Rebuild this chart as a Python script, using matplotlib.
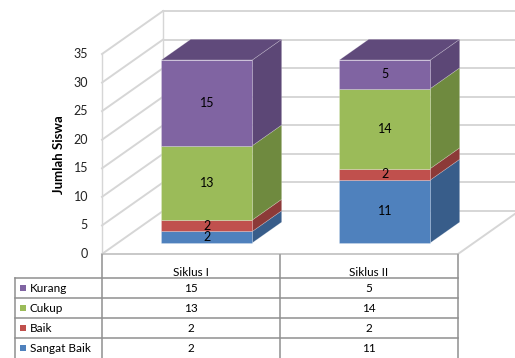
import numpy as np
import matplotlib.pyplot as plt
from matplotlib.patches import Polygon, Rectangle

plt.rcParams['font.family'] = ['Lato', 'DejaVu Sans']

# data
categories = ["Siklus I", "Siklus II"]
series = ["Sangat Baik", "Baik", "Cukup", "Kurang"]
sangat_baik = [2, 11]
baik = [2, 2]
cukup = [13, 14]
kurang = [15, 5]
yticks = [0, 5, 10, 15, 20, 25, 30, 35]

values = [sangat_baik, baik, cukup, kurang]
front_cols = ["#4F81BD", "#C0504D", "#9BBB59", "#8064A2"]
side_cols = ["#385D8A", "#8C3A38", "#6F8A3F", "#5C4776"]
top_col = "#604A7B"

# pseudo-3d geometry (data units)
W, H = 515, 358
PX_X, PX_Y = 178.0, 5.714     # pixels per unit
X0_PX, Y0_PX = 102, 254       # pixel position of (-0.5, 0)
DX, DY = 0.343, 7.53          # full depth of floor
Z0, Z1 = 0.26, 0.74           # bar depth span
BW = 0.511

fig = plt.figure(figsize=(W / 100, H / 100), dpi=100)
ax = fig.add_axes([0, 0, 1, 1])
ax.set_xlim(-0.5 - X0_PX / PX_X, -0.5 + (W - X0_PX) / PX_X)
ax.set_ylim(-(H - Y0_PX) / PX_Y, Y0_PX / PX_Y)
ax.axis('off')

def px(xp, yp):
    return (-0.5 + (xp - X0_PX) / PX_X, (Y0_PX - yp) / PX_Y)

xl, xr = -0.5, len(categories) - 0.5
ymax = yticks[-1]
grid = "#D6D6D6"

# walls and gridlines
for v in yticks:
    ax.plot([xl, xl + DX], [v, v + DY], color=grid, lw=1.4, zorder=1)
    ax.plot([xl + DX, xr + DX], [v + DY, v + DY], color=grid, lw=1.4, zorder=1)
ax.plot([xl, xl], [0, ymax], color=grid, lw=1.0, zorder=1)
ax.plot([xl + DX, xl + DX], [DY, ymax + DY], color=grid, lw=1.0, zorder=1)
ax.plot([xr, xr + DX], [0, DY], color=grid, lw=1.4, zorder=1)
ax.plot([xl, xr], [0, 0], color="#BFBFBF", lw=1.2, zorder=1)

for v in yticks:
    ax.text(xl - 14 / PX_X, v, str(v), ha='right', va='center', fontsize=9, color="#222222")
lx, ly = px(59, 155)
ax.text(lx, ly, "Jumlah Siswa", rotation=90, ha='center', va='center',
        fontsize=9.5, fontweight='bold')

# bars
def box(xc, y0, y1, fc, sc, tc=None):
    x0 = xc - BW / 2 + Z0 * DX
    x1 = xc + BW / 2 + Z0 * DX
    b = Z0 * DY
    ddx, ddy = (Z1 - Z0) * DX, (Z1 - Z0) * DY
    ax.add_patch(Polygon([(x1, y0 + b), (x1 + ddx, y0 + b + ddy),
                          (x1 + ddx, y1 + b + ddy), (x1, y1 + b)],
                         facecolor=sc, edgecolor=(1, 1, 1, 0.25), lw=0.5, zorder=3))
    if tc is not None:
        ax.add_patch(Polygon([(x0, y1 + b), (x1, y1 + b), (x1 + ddx, y1 + b + ddy),
                              (x0 + ddx, y1 + b + ddy)],
                             facecolor=tc, edgecolor=(1, 1, 1, 0.25), lw=0.5, zorder=3))
    ax.add_patch(Rectangle((x0, y0 + b), x1 - x0, y1 - y0, facecolor=fc,
                           edgecolor=(1, 1, 1, 0.3), lw=0.5, zorder=4))
    return (x0 + x1) / 2, (y0 + y1) / 2 + b

for i, cat in enumerate(categories):
    bottom = 0
    for k, vals in enumerate(values):
        v = vals[i]
        top = bottom + v
        tc = top_col if k == len(values) - 1 else None
        cx, cy = box(i, bottom, top, front_cols[k], side_cols[k], tc)
        ax.text(cx, cy, str(v), ha='center', va='center', fontsize=9, zorder=5)
        bottom = top

# data table
tcol = "#8F8F8F"
row_y = [278, 298, 318, 338, 358]
_, yt = px(0, 255)
for i in range(len(categories) + 1):
    xx = xl + i
    ax.plot([xx, xx], [yt, px(0, 358)[1]], color=tcol, lw=1.1, zorder=2)
lx0 = px(15, 0)[0]
ax.plot([lx0, lx0], [px(0, 278)[1], px(0, 358)[1]], color=tcol, lw=1.1)
for yp in row_y[:-1]:
    yy = px(0, yp)[1]
    ax.plot([lx0, xr], [yy, yy], color=tcol, lw=1.1)
for i, cat in enumerate(categories):
    ax.text(i, px(0, 272)[1], cat, ha='center', va='center', fontsize=8.5)

for r, k in enumerate(reversed(range(len(series)))):
    yc = px(0, (row_y[r] + row_y[r + 1]) / 2)[1]
    sx, _ = px(20, 0)
    ax.add_patch(Rectangle((sx, yc - 3 / PX_Y), 6 / PX_X, 6 / PX_Y,
                           facecolor=front_cols[k], edgecolor='none'))
    ax.text(px(30, 0)[0], yc, series[k], ha='left', va='center', fontsize=8.5)
    for i in range(len(categories)):
        ax.text(i, yc, str(values[k][i]), ha='center', va='center', fontsize=8.5)

fig.savefig("out.png", dpi=100)
